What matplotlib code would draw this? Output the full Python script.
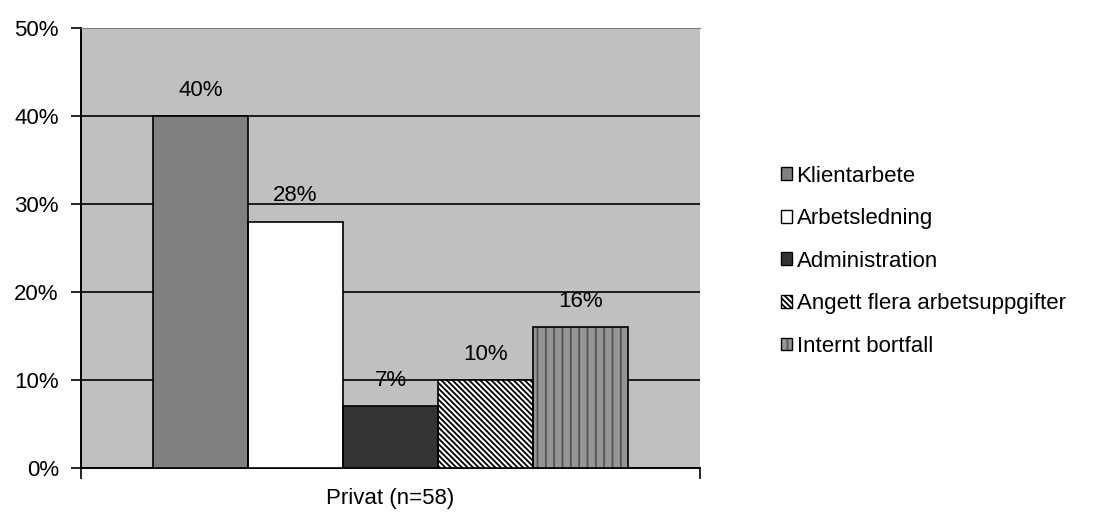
import matplotlib
matplotlib.use("Agg")
import matplotlib.pyplot as plt
from matplotlib.patches import Patch
from matplotlib.legend_handler import HandlerTuple
from matplotlib.ticker import PercentFormatter

plt.rcParams["font.family"] = ["Liberation Sans", "DejaVu Sans"]
plt.rcParams["hatch.linewidth"] = 1.3

category = "Privat (n=58)"
series = ["Klientarbete", "Arbetsledning", "Administration",
          "Angett flera arbetsuppgifter", "Internt bortfall"]
values = [40, 28, 7, 10, 16]

# fill, hatch, hatch colour per series
styles = [
    ("#808080", "", "black"),
    ("#ffffff", "", "black"),
    ("#333333", "", "black"),
    ("#ffffff", "\\\\\\\\\\\\", "black"),
    ("#969696", "||", "#555555"),
]

FS = 16

fig = plt.figure(figsize=(10.95, 5.15), dpi=100)
ax = fig.add_axes([81 / 1095, 1 - 468 / 515, 619 / 1095, 440 / 515])
ax.set_facecolor("#c0c0c0")

width = 0.1535
start = 0.5 - width * len(values) / 2
handles = []
for i, (name, v, (fc, hatch, hc)) in enumerate(zip(series, values, styles)):
    x = start + width * (i + 0.5)
    # hatch layer first, then a plain black outline on top
    ax.bar(x, v, width, color=fc, hatch=hatch, edgecolor=hc,
           linewidth=0, zorder=3)
    ax.bar(x, v, width, fill=False, edgecolor="black", linewidth=1.2, zorder=4)
    ax.annotate(f"{v}%", (x, v), xytext=(0, 18.5), textcoords="offset points",
                ha="center", va="center", fontsize=FS, zorder=5)
    handles.append((Patch(facecolor=fc, hatch=hatch, edgecolor=hc, linewidth=0),
                    Patch(fill=False, edgecolor="black", linewidth=1.0)))

ax.set_xlim(0, 1)
ax.set_ylim(0, 50)
ax.set_yticks(range(0, 51, 10))
ax.yaxis.set_major_formatter(PercentFormatter(decimals=0))
ax.set_xticks([0, 1])
ax.set_xticklabels(["", ""])
ax.tick_params(axis="y", length=7, width=1.2, labelsize=FS, pad=9)
ax.tick_params(axis="x", length=8, width=1.2)
ax.text(0.5, -0.07, category, transform=ax.transAxes, ha="center",
        va="center", fontsize=FS)

ax.grid(axis="y", color="black", linewidth=1.2, zorder=1)
ax.set_axisbelow(True)
for side in ("left", "bottom"):
    ax.spines[side].set_linewidth(1.4)
ax.spines["top"].set_color("#808080")
ax.spines["right"].set_visible(False)

ax.legend(handles, series, handler_map={tuple: HandlerTuple(ndivide=1, pad=0)},
          loc="center left", bbox_to_anchor=(700 / 619, 0.470),
          frameon=False, fontsize=FS, handlelength=0.5, handleheight=0.5,
          handletextpad=0.2, labelspacing=0.97, borderaxespad=0,
          borderpad=0)

fig.savefig("out.png", dpi=100)
